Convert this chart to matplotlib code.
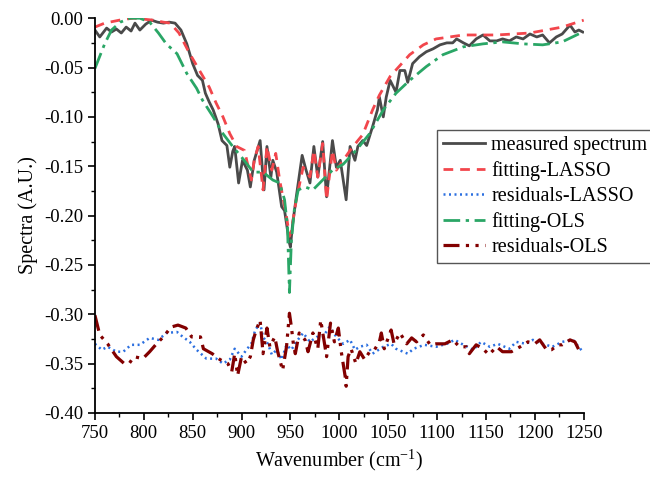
import matplotlib
matplotlib.use('Agg')
import matplotlib.pyplot as plt
from matplotlib.ticker import MultipleLocator

plt.rcParams['font.family'] = ['Liberation Serif', 'DejaVu Serif']
plt.rcParams['mathtext.fontset'] = 'custom'
plt.rcParams['mathtext.rm'] = 'Liberation Serif'

# measured spectrum
meas_x = [750, 755, 762, 767, 772, 777, 782, 787, 791, 796, 802, 808, 814, 820, 826, 832,
          838, 844, 850, 855, 860, 863, 867, 871, 876, 880, 885, 888, 891, 893, 897, 901,
          906, 909, 913, 919, 923, 926, 930, 932, 936, 941, 944, 949, 950, 952, 956, 962,
          966, 970, 974, 978, 983, 987, 993, 997, 1001, 1007, 1011, 1016, 1019, 1024, 1028,
          1034, 1039, 1041, 1045, 1048, 1052, 1058, 1062, 1067, 1070, 1075, 1082, 1089, 1096,
          1103, 1110, 1116, 1120, 1127, 1133, 1140, 1147, 1154, 1161, 1167, 1174, 1181, 1188,
          1195, 1202, 1208, 1215, 1222, 1228, 1236, 1241, 1245, 1249]
meas_y = [-0.012, -0.019, -0.010, -0.014, -0.011, -0.015, -0.009, -0.013, -0.005, -0.012,
          -0.006, -0.002, -0.004, -0.005, -0.004, -0.005, -0.012, -0.026, -0.046, -0.058,
          -0.063, -0.076, -0.085, -0.093, -0.107, -0.124, -0.129, -0.151, -0.135, -0.130,
          -0.167, -0.144, -0.154, -0.171, -0.144, -0.124, -0.174, -0.130, -0.161, -0.144,
          -0.156, -0.191, -0.195, -0.228, -0.232, -0.211, -0.181, -0.139, -0.154, -0.167,
          -0.130, -0.161, -0.125, -0.181, -0.124, -0.151, -0.144, -0.184, -0.130, -0.144,
          -0.130, -0.124, -0.129, -0.110, -0.093, -0.080, -0.100, -0.080, -0.063, -0.075,
          -0.053, -0.053, -0.065, -0.046, -0.039, -0.034, -0.031, -0.027, -0.025, -0.025,
          -0.021, -0.025, -0.028, -0.021, -0.017, -0.023, -0.023, -0.021, -0.023, -0.019,
          -0.021, -0.016, -0.019, -0.017, -0.025, -0.019, -0.016, -0.007, -0.014, -0.012,
          -0.014]

# LASSO fit
lasso_x = [750, 760, 770, 780, 790, 800, 810, 820, 827, 836, 847, 857, 867, 874, 881, 888,
           895, 903, 910, 913, 917, 922, 926, 931, 935, 939, 946, 949, 951, 956, 963, 970,
           974, 978, 983, 987, 993, 997, 1004, 1011, 1019, 1024, 1034, 1041, 1052, 1062,
           1072, 1086, 1099, 1127, 1161, 1195, 1228, 1250]
lasso_y = [-0.009, -0.005, -0.003, -0.001, 0.000, -0.001, -0.002, -0.004, -0.005, -0.015,
           -0.036, -0.053, -0.070, -0.086, -0.100, -0.117, -0.130, -0.134, -0.164, -0.144,
           -0.130, -0.174, -0.130, -0.154, -0.137, -0.164, -0.201, -0.221, -0.215, -0.184,
           -0.151, -0.161, -0.134, -0.161, -0.127, -0.184, -0.134, -0.154, -0.144, -0.134,
           -0.124, -0.118, -0.093, -0.078, -0.059, -0.048, -0.037, -0.027, -0.021, -0.017,
           -0.017, -0.015, -0.009, -0.002]

# OLS fit
ols_x = [750, 760, 767, 776, 786, 796, 806, 815, 823, 834, 844, 854, 860, 871, 881, 891,
         901, 912, 922, 932, 939, 944, 947, 949, 951, 954, 958, 965, 973, 983, 993, 1004,
         1018, 1031, 1045, 1058, 1072, 1089, 1106, 1127, 1147, 1167, 1188, 1208, 1228, 1249]
ols_y = [-0.051, -0.026, -0.012, -0.004, 0.000, 0.000, -0.004, -0.015, -0.026, -0.036,
         -0.056, -0.071, -0.083, -0.100, -0.117, -0.130, -0.142, -0.156, -0.156, -0.164,
         -0.167, -0.184, -0.211, -0.278, -0.225, -0.194, -0.174, -0.171, -0.174, -0.164,
         -0.154, -0.148, -0.133, -0.117, -0.093, -0.076, -0.063, -0.049, -0.037, -0.029,
         -0.026, -0.024, -0.026, -0.027, -0.024, -0.014]

# LASSO residuals
res_lasso_x = [750, 757, 763, 772, 779, 787, 796, 806, 815, 823, 834, 840, 847, 854, 864,
               874, 881, 888, 893, 900, 905, 910, 914, 919, 922, 927, 931, 936, 941, 946,
               951, 956, 963, 970, 977, 983, 990, 997, 1004, 1011, 1016, 1021, 1028, 1034,
               1045, 1053, 1058, 1070, 1076, 1087, 1099, 1110, 1118, 1127, 1137, 1145, 1154,
               1162, 1174, 1181, 1191, 1198, 1208, 1218, 1228, 1239, 1249]
res_lasso_y = [-0.330, -0.336, -0.333, -0.338, -0.338, -0.331, -0.331, -0.324, -0.326,
               -0.319, -0.318, -0.323, -0.328, -0.336, -0.345, -0.345, -0.350, -0.346,
               -0.335, -0.343, -0.336, -0.330, -0.316, -0.309, -0.323, -0.330, -0.341,
               -0.336, -0.346, -0.331, -0.336, -0.328, -0.319, -0.328, -0.323, -0.323,
               -0.313, -0.323, -0.330, -0.326, -0.336, -0.333, -0.331, -0.340, -0.333,
               -0.330, -0.335, -0.340, -0.335, -0.331, -0.333, -0.330, -0.326, -0.331,
               -0.336, -0.328, -0.333, -0.330, -0.335, -0.328, -0.330, -0.326, -0.330,
               -0.333, -0.328, -0.326, -0.338]

# OLS residuals
res_ols_x = [750, 755, 763, 772, 780, 785, 790, 799, 806, 813, 820, 828, 835, 843, 849,
             858, 861, 870, 878, 886, 890, 893, 896, 900, 905, 909, 912, 915, 919, 922, 926,
             929, 934, 937, 942, 946, 949, 951, 953, 955, 959, 965, 968, 973, 978, 981, 987,
             991, 995, 999, 1002, 1006, 1007, 1009, 1012, 1017, 1021, 1026, 1031, 1036, 1041,
             1043, 1046, 1053, 1056, 1062, 1069, 1074, 1079, 1086, 1093, 1099, 1108, 1116,
             1123, 1130, 1133, 1140, 1147, 1153, 1161, 1167, 1176, 1185, 1193, 1200, 1205,
             1212, 1217, 1224, 1228, 1236, 1241, 1246]
res_ols_y = [-0.301, -0.321, -0.330, -0.343, -0.350, -0.350, -0.343, -0.345, -0.338, -0.330,
             -0.323, -0.313, -0.311, -0.314, -0.323, -0.323, -0.335, -0.340, -0.346, -0.350,
             -0.358, -0.340, -0.362, -0.343, -0.350, -0.343, -0.326, -0.316, -0.306, -0.340,
             -0.314, -0.333, -0.323, -0.338, -0.357, -0.333, -0.299, -0.313, -0.330, -0.340,
             -0.319, -0.326, -0.338, -0.319, -0.335, -0.306, -0.343, -0.309, -0.328, -0.314,
             -0.338, -0.363, -0.373, -0.343, -0.335, -0.350, -0.338, -0.346, -0.338, -0.336,
             -0.328, -0.319, -0.335, -0.316, -0.330, -0.319, -0.330, -0.324, -0.328, -0.321,
             -0.331, -0.330, -0.330, -0.326, -0.333, -0.333, -0.340, -0.331, -0.335, -0.341,
             -0.333, -0.338, -0.338, -0.333, -0.328, -0.330, -0.326, -0.336, -0.336, -0.331,
             -0.331, -0.326, -0.328, -0.338]

fig = plt.figure(figsize=(6.5, 4.79), dpi=100)
ax = fig.add_axes([0.146, 0.138, 0.752, 0.824])

ax.plot(meas_x, meas_y, color='#4a4a4a', lw=2.0, label='measured spectrum')
ax.plot(lasso_x, lasso_y, color='#f2464c', lw=2.0, ls=(0, (3.5, 2.5)), label='fitting-LASSO')
ax.plot(res_lasso_x, res_lasso_y, color='#2b6fe0', lw=1.8, ls=(0, (0.8, 1.4)), label='residuals-LASSO')
ax.plot(ols_x, ols_y, color='#2aa666', lw=2.0, ls=(0, (6, 2, 1.2, 2)), label='fitting-OLS')
ax.plot(res_ols_x, res_ols_y, color='#820000', lw=2.3, ls=(0, (5, 2, 1, 2, 1, 2)), label='residuals-OLS')

ax.set_xlim(750, 1250)
ax.set_ylim(-0.40, 0.0)
ax.xaxis.set_major_locator(MultipleLocator(50))
ax.xaxis.set_minor_locator(MultipleLocator(25))
ax.yaxis.set_major_locator(MultipleLocator(0.05))
ax.yaxis.set_minor_locator(MultipleLocator(0.025))
ax.yaxis.set_major_formatter(matplotlib.ticker.FormatStrFormatter('%.2f'))
ax.spines['top'].set_visible(False)
ax.spines['right'].set_visible(False)
for s in ('left', 'bottom'):
    ax.spines[s].set_linewidth(1.3)
ax.tick_params(which='major', direction='out', length=5, width=1.2, labelsize=13.5)
ax.tick_params(which='minor', direction='out', length=3, width=1.0)

ax.set_xlabel('Wavenumber (cm$^{\\mathregular{-1}}$)', fontsize=14.5)
ax.set_ylabel('Spectra (A.U.)', fontsize=14.5)

leg = fig.legend(loc='upper left', bbox_to_anchor=(0.672, 0.729), fontsize=14.5,
                 frameon=True, fancybox=False, edgecolor='#555555', framealpha=1,
                 handlelength=2.1, labelspacing=0.3, borderpad=0.3, handletextpad=0.3,
                 borderaxespad=0)
leg.get_frame().set_linewidth(1.0)

fig.savefig('out.png', dpi=100)
